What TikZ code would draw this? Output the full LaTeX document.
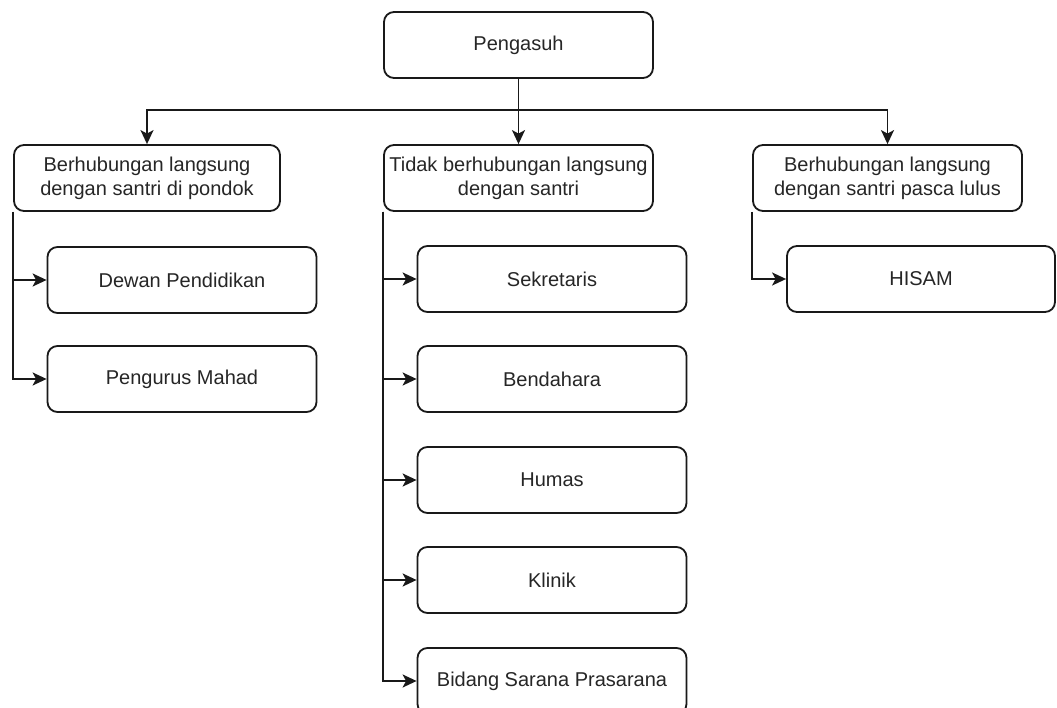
\documentclass[tikz,border=0pt]{standalone}
\usepackage{fontspec}
\setmainfont{Liberation Sans}
\usetikzlibrary{arrows.meta}
\begin{document}
\begin{tikzpicture}[x=1pt,y=-1pt,
  box/.style={draw=black!90, rounded corners=10pt, line width=1.8pt,
    minimum width=269pt, minimum height=66pt, inner sep=0pt,
    align=center, text=black!85, font=\fontsize{20}{24}\selectfont},
  link/.style={draw=black!90, line width=1.8pt,
    -{Stealth[length=14pt,width=13pt,inset=3.5pt]}}]
  \clip (0,0) rectangle (1057,708);
  \fill[white] (0,0) rectangle (1057,708);

  % top node
  \node[box] (p) at (518.5,45) {Pengasuh};

  % second level
  \node[box, minimum width=266pt] (l) at (147,178) {Berhubungan langsung\\dengan santri di pondok};
  \node[box] (m) at (518.5,178) {Tidak berhubungan langsung\\dengan santri};
  \node[box] (r) at (887.5,178) {Berhubungan langsung\\dengan santri pasca lulus};

  % branch under the left node
  \node[box] (dp) at (182,280) {Dewan Pendidikan};
  \node[box] (pm) at (182,379) {Pengurus Mahad};

  % branch under the middle node
  \node[box] (sk) at (552,279) {Sekretaris};
  \node[box] (bd) at (552,379) {Bendahara};
  \node[box] (hm) at (552,480) {Humas};
  \node[box] (kl) at (552,580) {Klinik};
  \node[box] (bs) at (552,681) {Bidang Sarana Prasarana};

  % branch under the right node
  \node[box, minimum width=268pt] (hs) at (921,279) {HISAM};

  % connectors from the top node
  \coordinate (j) at (518.5,110);
  \draw[link] (p) -- (m);
  \draw[link] (j) -| (l);
  \draw[link] (j) -| (r);

  % connectors to the lower nodes
  \draw[link] (l.south west) |- (dp.west);
  \draw[link] (l.south west) |- (pm.west);
  \draw[link] (m.south west) |- (sk.west);
  \draw[link] (m.south west) |- (bd.west);
  \draw[link] (m.south west) |- (hm.west);
  \draw[link] (m.south west) |- (kl.west);
  \draw[link] (m.south west) |- (bs.west);
  \draw[link] (r.south west) |- (hs.west);
\end{tikzpicture}
\end{document}
